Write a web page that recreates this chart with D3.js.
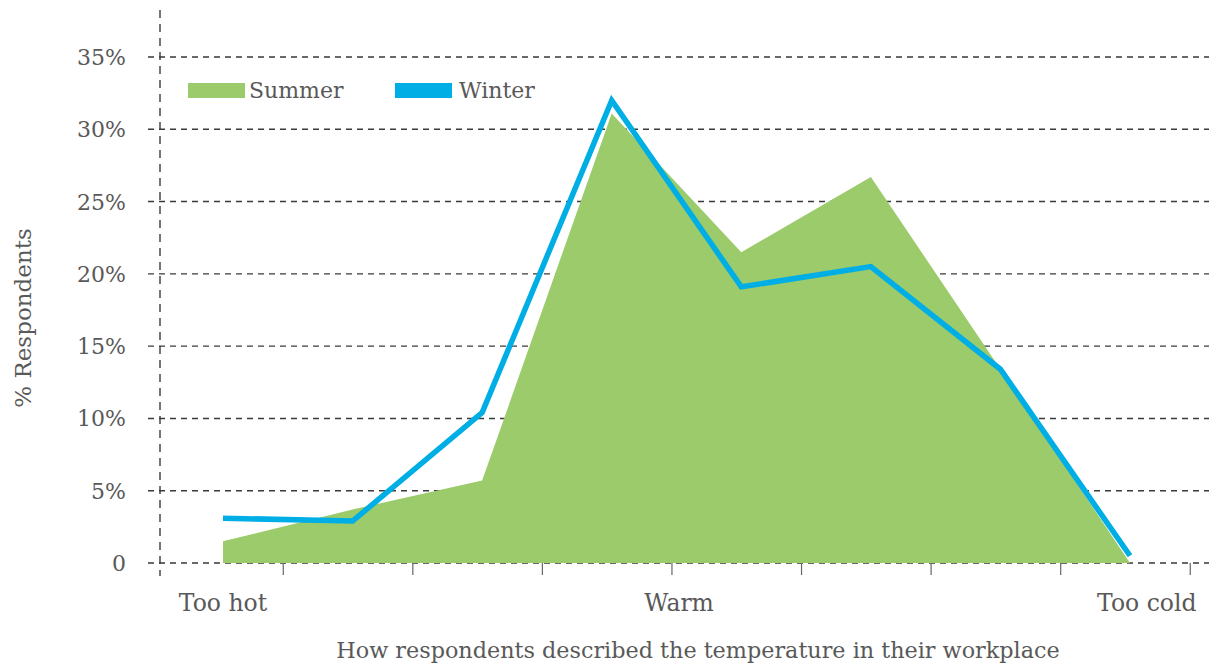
<!DOCTYPE html>
<html>
<head>
<meta charset="utf-8">
<script src="https://cdn.jsdelivr.net/npm/d3@7"></script>
<style>
  html, body { margin: 0; padding: 0; background: #fff; }
  svg { display: block; }
  text { font-family: "DejaVu Serif", serif; fill: #595959; }
</style>
</head>
<body>
<svg id="chart" width="1209" height="664"></svg>
<script>
// Share of respondents per step on the hot → cold scale
const steps = [0, 1, 2, 3, 4, 5, 6, 7];
const summer = [1.5, 3.7, 5.7, 31.1, 21.5, 26.7, 13.4, 0];
const winter = [3.1, 2.9, 10.4, 32.0, 19.1, 20.5, 13.4, 0.5];
const yTicks = [0, 5, 10, 15, 20, 25, 30, 35];
const categoryLabels = ["Too hot", "Warm", "Too cold"];
const categoryAt = [0, 3.52, 7.13];
const seriesNames = ["Summer", "Winter"];
const seriesColors = ["#9bcb6a", "#00aee6"];

const svg = d3.select("#chart");
const x = d3.scaleLinear().domain([0, 7]).range([223, 1130]);
const y = d3.scaleLinear().domain([0, 35]).range([563, 57]);

const gridColor = "#3a3a3a";
const dash = "6,5";

// horizontal gridlines with their left tick stubs
svg.append("g").selectAll("line").data(yTicks).join("line")
  .attr("x1", 148).attr("x2", 1209)
  .attr("y1", d => y(d)).attr("y2", d => y(d))
  .attr("stroke", gridColor).attr("stroke-width", 1.4)
  .attr("stroke-dasharray", dash);

// dashed vertical axis
svg.append("line")
  .attr("x1", 160).attr("x2", 160).attr("y1", 10).attr("y2", 576)
  .attr("stroke", gridColor).attr("stroke-width", 1.4)
  .attr("stroke-dasharray", "8,6");

// y tick labels
svg.append("g").selectAll("text").data(yTicks).join("text")
  .attr("x", 126).attr("y", d => y(d) + 8)
  .attr("text-anchor", "end")
  .style("font-size", "22px")
  .text(d => d === 0 ? "0" : d + "%");

// x tick marks between steps
const xTickPos = steps.map(i => i + 0.465);
svg.append("g").selectAll("line").data(xTickPos).join("line")
  .attr("x1", d => x(d)).attr("x2", d => x(d))
  .attr("y1", y(0)).attr("y2", y(0) + 12)
  .attr("stroke", "#666").attr("stroke-width", 1.2);

// Summer area
const area = d3.area()
  .x((d, i) => x(steps[i]))
  .y0(y(0))
  .y1(d => y(d));
svg.append("path").datum(summer)
  .attr("d", area)
  .attr("fill", seriesColors[0]);

// Winter line
const line = d3.line()
  .x((d, i) => x(steps[i]))
  .y(d => y(d));
svg.append("path").datum(winter)
  .attr("d", line)
  .attr("fill", "none")
  .attr("stroke", seriesColors[1])
  .attr("stroke-width", 5.5)
  .attr("stroke-linejoin", "miter");

// category labels
svg.append("g").selectAll("text").data(categoryLabels).join("text")
  .attr("x", (d, i) => x(categoryAt[i]))
  .attr("y", 611)
  .attr("text-anchor", "middle")
  .style("font-size", "23.5px")
  .text(d => d);

// axis titles
svg.append("text")
  .attr("x", 698).attr("y", 658)
  .attr("text-anchor", "middle")
  .style("font-size", "22.3px")
  .text("How respondents described the temperature in their workplace");

svg.append("text")
  .attr("transform", "translate(31,318) rotate(-90)")
  .attr("text-anchor", "middle")
  .style("font-size", "23px")
  .text("% Respondents");

// legend
const legendX = [188, 395];
const legend = svg.append("g").selectAll("g").data(seriesNames).join("g")
  .attr("transform", (d, i) => `translate(${legendX[i]},83)`);
legend.append("rect")
  .attr("width", 57).attr("height", 15)
  .attr("fill", (d, i) => seriesColors[i]);
legend.append("text")
  .attr("x", (d, i) => i === 0 ? 61 : 64).attr("y", 15)
  .style("font-size", "22px")
  .text(d => d);
</script>
</body>
</html>
